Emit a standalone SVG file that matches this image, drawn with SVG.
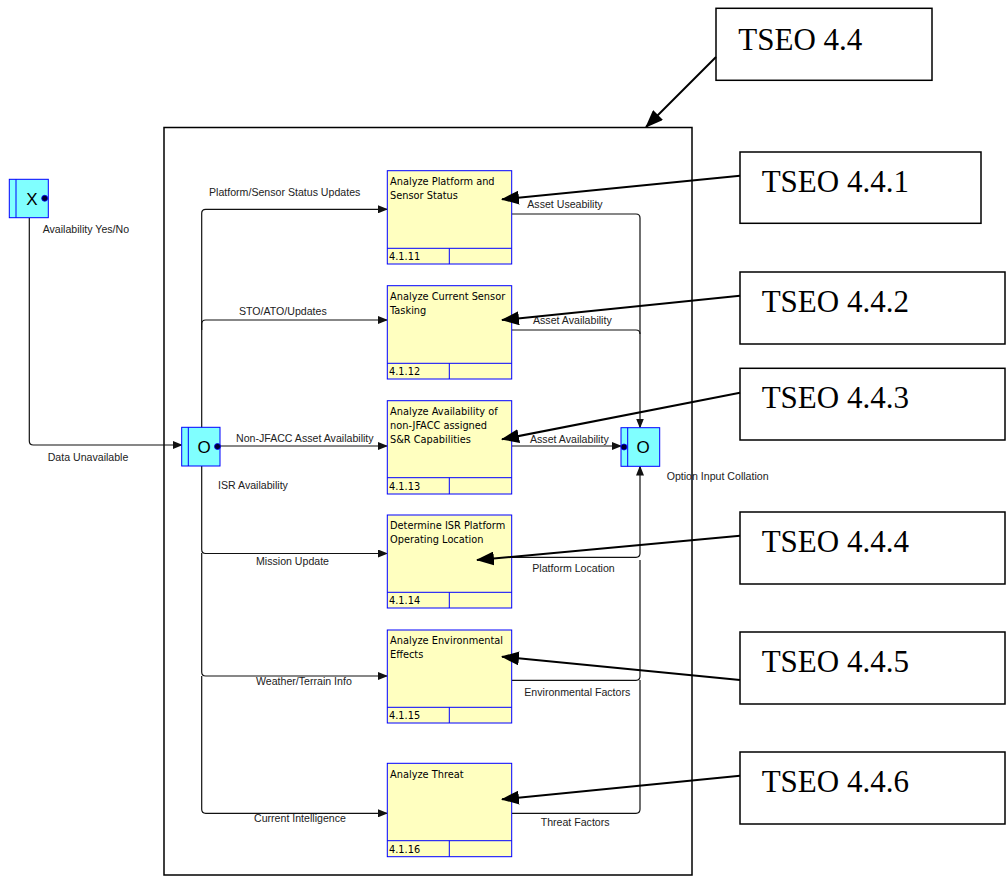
<svg xmlns="http://www.w3.org/2000/svg" width="1007" height="896" viewBox="0 0 1007 896">
<style>
.lbl{font-family:"Liberation Sans",Arial,sans-serif;font-size:10.6px;fill:#222}
.ptxt{font-family:"DejaVu Sans",sans-serif;font-size:9.8px;fill:#000}
.proc{fill:#FFFFC0;stroke:#0000FF;stroke-width:1}
.junc{fill:#80FFFF;stroke:#0000FF;stroke-width:1}
.conn{fill:none;stroke:#111;stroke-width:1.2}
.call{fill:none;stroke:#000;stroke-width:2}
.tbox{fill:#fff;stroke:#000;stroke-width:1.5}
.ttxt{font-family:"Liberation Serif","Times New Roman",serif;font-size:31px;fill:#000}
.jtxt{font-family:"Liberation Sans",Arial,sans-serif;font-size:17px;fill:#000}
.dot{fill:#000030;stroke:#0000FF;stroke-width:0.8}
</style>
<defs>
<marker id="a" markerWidth="10" markerHeight="8" refX="9" refY="4" orient="auto" markerUnits="userSpaceOnUse"><path d="M0,0 L10,4 L0,8 Z" fill="#111"/></marker>
<marker id="b" markerWidth="18" markerHeight="14" refX="17" refY="7" orient="auto" markerUnits="userSpaceOnUse"><path d="M0,0 L18,7 L0,14 Z" fill="#000"/></marker>
</defs>

<g id="frame"><rect x="164" y="127.5" width="528" height="747.5" fill="none" stroke="#000" stroke-width="1.5"/></g>

<g id="connectors">
<path class="conn" d="M29.3,217.7 V441 Q29.3,445 33.3,445 H181.7" marker-end="url(#a)"/>
<path class="conn" d="M201.7,440 V213.3 Q201.7,209.3 205.7,209.3 H387" marker-end="url(#a)"/>
<path class="conn" d="M201.7,330 V324 Q201.7,320 205.7,320 H387" marker-end="url(#a)"/>
<path class="conn" d="M220,446 H387" marker-end="url(#a)"/>
<path class="conn" d="M201.7,460 V549.5 Q201.7,553.5 205.7,553.5 H387" marker-end="url(#a)"/>
<path class="conn" d="M201.7,553 V672 Q201.7,676 205.7,676 H387" marker-end="url(#a)"/>
<path class="conn" d="M201.7,676 V809.3 Q201.7,813.3 205.7,813.3 H387" marker-end="url(#a)"/>
<path class="conn" d="M512,214 H636 Q640,214 640,218 V427.5" marker-end="url(#a)"/>
<path class="conn" d="M512,330 H636 Q640,330 640,334"/>
<path class="conn" d="M512,446 H621" marker-end="url(#a)"/>
<path class="conn" d="M512,557.3 H636 Q640,557.3 640,553.3 V466.5" marker-end="url(#a)"/>
<path class="conn" d="M512,680.3 H636 Q640,680.3 640,676.3 V560"/>
<path class="conn" d="M512,813.3 H636 Q640,813.3 640,809.3 V680"/>
</g>

<g id="labels">
<text class="lbl" x="42.7" y="233">Availability Yes/No</text>
<text class="lbl" x="47.7" y="461">Data Unavailable</text>
<text class="lbl" x="209" y="195.5">Platform/Sensor Status Updates</text>
<text class="lbl" x="239" y="315">STO/ATO/Updates</text>
<text class="lbl" x="236" y="442">Non-JFACC Asset Availability</text>
<text class="lbl" x="218" y="489">ISR Availability</text>
<text class="lbl" x="256" y="565">Mission Update</text>
<text class="lbl" x="256" y="685">Weather/Terrain Info</text>
<text class="lbl" x="254" y="822">Current Intelligence</text>
<text class="lbl" x="527.3" y="208">Asset Useability</text>
<text class="lbl" x="533" y="324">Asset Availability</text>
<text class="lbl" x="530" y="443">Asset Availability</text>
<text class="lbl" x="666.7" y="480">Option Input Collation</text>
<text class="lbl" x="532.3" y="571.5">Platform Location</text>
<text class="lbl" x="524.3" y="695.5">Environmental Factors</text>
<text class="lbl" x="540.7" y="825.5">Threat Factors</text>
</g>

<g id="junction-x">
<rect class="junc" x="9.3" y="179.3" width="39" height="38.4"/>
<line x1="16" y1="179.3" x2="16" y2="217.7" stroke="#0000FF"/>
<text class="jtxt" x="32" y="204.5" text-anchor="middle">X</text>
<circle class="dot" cx="44.7" cy="198.3" r="3"/>
</g>

<g id="junction-o-left">
<rect class="junc" x="181.7" y="427.3" width="38.3" height="38.7"/>
<line x1="188.3" y1="427.3" x2="188.3" y2="466" stroke="#0000FF"/>
<text class="jtxt" x="204" y="453" text-anchor="middle">O</text>
<circle class="dot" cx="217.5" cy="446.5" r="3"/>
</g>

<g id="junction-o-right">
<rect class="junc" x="621" y="427.7" width="38.7" height="38.6"/>
<line x1="627.7" y1="427.7" x2="627.7" y2="466.3" stroke="#0000FF"/>
<text class="jtxt" x="643" y="453" text-anchor="middle">O</text>
<circle class="dot" cx="624" cy="447" r="3"/>
</g>

<g id="p1">
<rect class="proc" x="387.3" y="170.7" width="124.4" height="93.3"/>
<line x1="387.3" y1="248.3" x2="511.7" y2="248.3" stroke="#0000FF"/>
<line x1="449.3" y1="248.3" x2="449.3" y2="264" stroke="#0000FF"/>
<text class="ptxt" x="390" y="185">Analyze Platform and</text>
<text class="ptxt" x="390" y="198.5">Sensor Status</text>
<text class="ptxt" x="389" y="260">4.1.11</text>
</g>

<g id="p2">
<rect class="proc" x="387.3" y="285.7" width="124.4" height="93.3"/>
<line x1="387.3" y1="363.3" x2="511.7" y2="363.3" stroke="#0000FF"/>
<line x1="449.3" y1="363.3" x2="449.3" y2="379" stroke="#0000FF"/>
<text class="ptxt" x="390" y="300">Analyze Current Sensor</text>
<text class="ptxt" x="390" y="313.5">Tasking</text>
<text class="ptxt" x="389" y="375">4.1.12</text>
</g>

<g id="p3">
<rect class="proc" x="387.3" y="400.7" width="124.4" height="93.3"/>
<line x1="387.3" y1="477.7" x2="511.7" y2="477.7" stroke="#0000FF"/>
<line x1="449.3" y1="477.7" x2="449.3" y2="494" stroke="#0000FF"/>
<text class="ptxt" x="390" y="414.5">Analyze Availability of</text>
<text class="ptxt" x="390" y="428.8">non-JFACC assigned</text>
<text class="ptxt" x="390" y="443">S&amp;R Capabilities</text>
<text class="ptxt" x="389" y="490">4.1.13</text>
</g>

<g id="p4">
<rect class="proc" x="387.3" y="515" width="124.4" height="93"/>
<line x1="387.3" y1="592.3" x2="511.7" y2="592.3" stroke="#0000FF"/>
<line x1="449.3" y1="592.3" x2="449.3" y2="608" stroke="#0000FF"/>
<text class="ptxt" x="390" y="529">Determine ISR Platform</text>
<text class="ptxt" x="390" y="542.5">Operating Location</text>
<text class="ptxt" x="389" y="604">4.1.14</text>
</g>

<g id="p5">
<rect class="proc" x="387.3" y="630" width="124.4" height="93"/>
<line x1="387.3" y1="707.3" x2="511.7" y2="707.3" stroke="#0000FF"/>
<line x1="449.3" y1="707.3" x2="449.3" y2="723" stroke="#0000FF"/>
<text class="ptxt" x="390" y="644">Analyze Environmental</text>
<text class="ptxt" x="390" y="657.5">Effects</text>
<text class="ptxt" x="389" y="719">4.1.15</text>
</g>

<g id="p6">
<rect class="proc" x="387.3" y="763.3" width="124.4" height="93.4"/>
<line x1="387.3" y1="840.7" x2="511.7" y2="840.7" stroke="#0000FF"/>
<line x1="449.3" y1="840.7" x2="449.3" y2="856.7" stroke="#0000FF"/>
<text class="ptxt" x="390" y="777.5">Analyze Threat</text>
<text class="ptxt" x="389" y="852.5">4.1.16</text>
</g>

<g id="t44"><rect class="tbox" x="716" y="8.3" width="216" height="72"/><text class="ttxt" x="738.3" y="49.5">TSEO 4.4</text></g>
<g id="t441"><rect class="tbox" x="740" y="152" width="241" height="71.3"/><text class="ttxt" x="761.7" y="191.7">TSEO 4.4.1</text></g>
<g id="t442"><rect class="tbox" x="740" y="272" width="265" height="72"/><text class="ttxt" x="761.7" y="311.7">TSEO 4.4.2</text></g>
<g id="t443"><rect class="tbox" x="740" y="368.3" width="265" height="71.7"/><text class="ttxt" x="761.7" y="408">TSEO 4.4.3</text></g>
<g id="t444"><rect class="tbox" x="740" y="512" width="265" height="72"/><text class="ttxt" x="761.7" y="551.7">TSEO 4.4.4</text></g>
<g id="t445"><rect class="tbox" x="740" y="632" width="265" height="72"/><text class="ttxt" x="761.7" y="671.7">TSEO 4.4.5</text></g>
<g id="t446"><rect class="tbox" x="740" y="752" width="265" height="72"/><text class="ttxt" x="761.7" y="791.7">TSEO 4.4.6</text></g>

<g id="callout-connectors">
<path class="call" d="M716,57 L646,127" marker-end="url(#b)"/>
<path class="call" d="M740,175.7 L502,199.3" marker-end="url(#b)"/>
<path class="call" d="M740,295.7 L502,320" marker-end="url(#b)"/>
<path class="call" d="M740,392.7 L502,439.3" marker-end="url(#b)"/>
<path class="call" d="M740,535.7 L477,560" marker-end="url(#b)"/>
<path class="call" d="M740,680 L502,656.7" marker-end="url(#b)"/>
<path class="call" d="M740,775.7 L502,799.3" marker-end="url(#b)"/>
</g>
</svg>
